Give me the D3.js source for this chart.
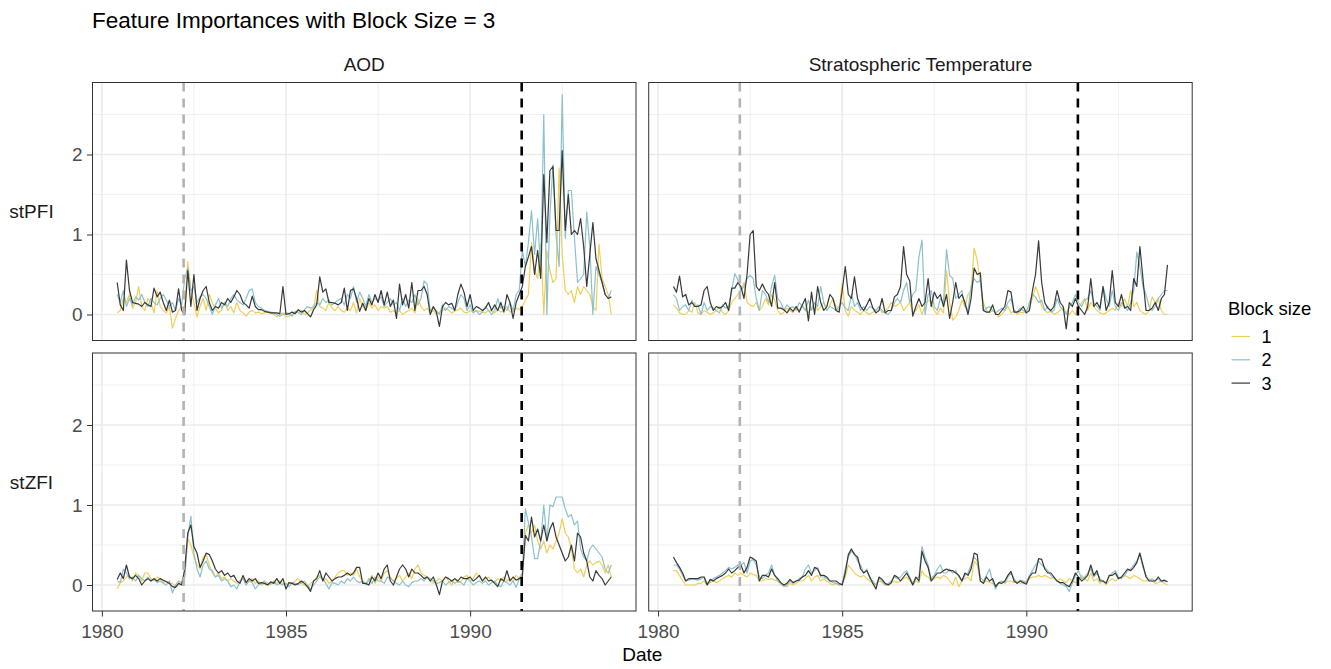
<!DOCTYPE html>
<html>
<head>
<meta charset="utf-8">
<script src="https://cdn.jsdelivr.net/npm/d3@7"></script>
<style>
  html, body { margin: 0; padding: 0; background: #ffffff; }
  svg { display: block; font-family: "Liberation Sans", Arial, Helvetica, sans-serif; }
</style>
</head>
<body>
<svg id="chart" width="1331" height="669"></svg>
<script>
// ---- Data -------------------------------------------------------------
// Monthly series, first value is June 1980.
const firstYear = 1980, firstMonth = 6;

const features = ["AOD", "Stratospheric Temperature"];
const metrics = ["stPFI", "stZFI"];
const blockSizes = ["1", "2", "3"];
const blockColors = ["#efcf57", "#8bc1cd", "#383838"];

const xTicks = [1980, 1985, 1990];
const xMinorTicks = [1982.5, 1987.5, 1992.5];
const yTicks = [0, 1, 2];
const yMinorTicks = [0.5, 1.5, 2.5];

// Eruption markers (decimal year): El Chichón, Pinatubo
const eventYears = [1982.22, 1991.40];
const eventColors = ["#b3b3b3", "#000000"];

// AOD, stPFI
const aodPfi1 = [
  0.02,0.05,0.20,0.15,0.25,0.08,0.15,0.35,0.10,0.05,0.20,0.15,0.02,0.30,0.10,0.05,0.02,0.10,
  -0.17,-0.05,0.05,0.10,0.08,0.66,0.30,0.15,-0.03,0.10,0.20,0.05,0.25,0.15,0.08,0.02,0.05,0.15,
  0.05,0.10,0.02,0.15,0.05,0.02,-0.02,0.03,0.05,0.02,0.03,0.01,0.02,0.04,0.02,0.00,-0.03,0.00,
  0.02,-0.03,-0.02,0.00,0.03,0.02,0.05,0.00,0.02,0.05,0.08,0.30,0.10,0.08,0.05,0.15,0.08,0.05,
  0.10,0.05,0.03,0.08,0.05,0.15,0.02,0.20,0.10,0.05,0.15,0.08,0.12,0.05,0.10,0.08,0.10,0.03,
  0.05,0.02,0.05,0.00,0.03,0.05,0.08,0.02,0.20,0.10,0.05,0.08,0.02,0.05,0.00,0.03,0.05,0.08,
  0.05,0.02,0.04,0.06,0.08,0.03,0.02,0.05,0.03,0.05,0.04,0.03,0.02,0.05,0.04,0.02,0.06,0.03,
  0.05,0.10,0.03,0.04,0.08,0.06,0.10,0.18,0.25,0.90,0.55,0.45,0.88,0.00,0.80,0.55,0.40,0.45,
  1.83,0.75,0.30,0.25,0.30,0.15,0.35,0.25,0.35,0.30,0.25,0.10,0.05,0.88,0.45,0.35,0.25,0.00
];
const aodPfi2 = [
  0.25,0.15,0.30,0.10,0.20,0.12,0.22,0.18,0.25,0.15,0.10,0.20,0.15,0.12,0.20,0.25,0.18,0.10,
  0.15,0.05,0.20,0.12,0.45,0.58,0.30,0.35,0.15,0.22,0.25,0.20,0.10,0.00,0.12,0.20,0.08,0.15,
  0.10,0.20,0.25,0.18,0.15,0.12,0.20,0.30,0.32,0.15,0.10,0.08,0.05,0.04,0.03,0.02,0.00,-0.02,
  0.00,0.02,0.01,-0.02,0.04,0.03,0.00,0.06,0.10,0.08,0.10,0.15,0.12,0.20,0.15,0.18,0.12,0.15,
  0.18,0.20,0.12,0.25,0.20,0.35,0.15,0.28,0.20,0.10,0.25,0.15,0.20,0.18,0.22,0.10,0.15,0.20,
  0.12,0.15,0.05,0.20,0.10,0.18,0.15,0.25,0.12,0.20,0.42,0.38,0.05,0.08,0.05,0.00,0.12,0.05,
  0.10,0.08,0.05,0.15,0.25,0.20,0.05,0.12,0.02,0.05,0.00,0.03,0.10,0.05,0.00,0.05,0.20,0.08,
  0.10,0.05,0.15,0.05,0.25,0.30,0.80,0.60,0.90,1.30,0.75,1.20,0.55,2.50,0.00,1.25,1.87,1.00,
  0.60,2.75,0.95,1.55,1.55,0.95,0.40,0.45,0.50,1.28,0.85,0.00,0.60,0.50,0.40,0.25,0.20,0.30
];
const aodPfi3 = [
  0.40,0.12,0.05,0.68,0.30,0.15,0.14,0.13,0.10,0.15,0.12,0.10,0.33,0.22,0.28,0.15,0.05,0.18,
  0.03,0.05,0.32,0.05,0.00,0.55,0.10,0.50,0.05,0.20,0.30,0.35,0.15,0.05,0.10,0.08,0.15,0.12,
  0.20,0.15,0.22,0.30,0.25,0.15,0.12,0.08,0.23,0.10,0.06,0.06,0.04,0.03,0.02,0.02,0.02,0.01,
  0.35,0.00,0.01,0.03,0.01,0.06,0.03,0.05,0.01,-0.03,0.06,0.12,0.47,0.28,0.32,0.15,0.15,0.14,
  0.12,0.15,0.33,0.05,0.30,0.32,0.20,0.04,0.14,0.05,0.20,0.12,0.25,0.15,0.30,0.12,0.28,0.10,
  0.18,-0.05,0.38,0.12,0.25,0.08,0.40,0.05,0.30,0.30,0.35,0.25,0.00,0.10,0.03,-0.15,0.10,0.15,
  0.12,0.14,0.05,0.25,0.38,0.28,0.10,0.25,0.05,0.10,0.08,0.05,0.08,0.15,0.05,0.12,0.05,0.15,
  0.03,0.25,0.15,-0.05,0.15,0.25,0.35,0.60,0.72,0.85,0.50,0.80,0.45,1.75,0.90,1.80,1.85,1.05,
  1.05,2.05,1.05,1.50,1.00,1.05,1.00,1.20,0.85,0.35,0.75,1.15,0.70,0.55,0.40,0.25,0.20,0.22
];

// Stratospheric Temperature, stPFI
const tempPfi1 = [
  0.12,0.08,0.02,0.00,0.00,0.05,0.03,0.15,0.02,0.00,0.05,0.03,0.00,0.02,0.05,0.10,0.03,0.00,
  0.05,0.15,0.20,0.25,0.30,0.40,0.15,0.12,0.10,0.15,0.05,0.10,0.20,0.12,0.25,0.18,0.05,0.00,
  0.03,0.08,0.05,0.02,0.10,0.05,0.12,0.05,0.02,0.08,0.15,0.05,0.10,0.15,0.05,0.12,0.20,0.10,
  0.05,0.39,0.05,-0.02,0.10,0.05,0.03,0.00,0.05,0.02,0.00,0.03,0.05,0.10,0.02,0.05,0.08,0.15,
  0.10,0.12,0.15,0.05,0.10,0.15,0.02,0.05,0.12,0.00,0.12,0.18,0.15,0.05,0.00,0.08,0.02,0.55,
  0.15,-0.07,-0.03,0.05,0.18,0.10,0.25,0.30,0.83,0.68,0.40,0.15,0.05,0.02,0.05,0.03,-0.03,0.00,
  0.05,0.10,0.02,0.05,0.00,0.03,0.02,0.05,0.08,0.20,0.35,0.25,0.10,0.05,0.02,0.05,0.00,0.02,
  0.05,0.10,0.02,0.00,0.05,0.00,0.08,0.15,0.20,0.05,0.15,0.10,0.05,0.02,0.00,0.02,0.05,0.08,
  0.05,0.15,0.10,0.20,0.10,0.30,0.10,0.15,0.05,0.02,0.00,0.05,0.22,0.15,0.20,0.05,0.00,0.00
];
const tempPfi2 = [
  0.25,0.20,0.05,0.10,0.12,0.05,0.18,0.10,0.12,0.00,0.15,0.05,0.10,0.08,0.05,0.02,0.12,0.08,
  0.10,0.30,0.51,0.43,0.30,0.35,0.45,0.49,0.45,0.20,0.05,0.30,0.25,0.15,0.35,0.49,0.20,0.15,
  0.05,0.12,0.08,0.10,0.05,0.15,0.10,0.05,0.18,0.05,0.15,0.10,0.35,0.15,0.05,0.10,0.08,0.05,
  0.10,0.15,0.08,0.05,0.25,0.10,0.15,0.05,0.10,0.05,0.10,0.08,0.05,0.10,0.05,0.02,0.00,0.05,
  0.15,0.20,0.15,0.30,0.40,0.15,0.25,0.30,0.72,0.93,0.00,0.25,0.30,0.10,0.05,0.20,0.15,0.81,
  0.49,0.45,0.20,0.25,0.30,0.10,0.05,0.35,0.45,0.40,0.43,0.05,0.08,0.10,0.05,0.02,0.05,0.08,
  0.05,0.15,0.20,0.05,0.03,0.08,0.05,0.02,0.15,0.25,0.22,0.15,0.18,0.05,0.10,0.03,0.05,0.20,
  0.10,0.05,0.00,0.10,0.15,0.25,0.15,0.10,0.18,0.20,0.30,0.15,0.10,0.05,0.35,0.20,0.10,0.30,
  0.10,0.05,0.15,0.10,0.05,0.15,0.30,0.78,0.60,0.35,0.25,0.10,0.05,0.10,0.20,0.25,0.30,0.30
];
const tempPfi3 = [
  0.35,0.28,0.48,0.22,0.25,0.12,0.15,0.10,0.10,0.12,0.30,0.35,0.15,0.05,0.10,0.08,0.10,0.15,
  0.05,0.33,0.33,0.40,0.35,0.20,0.50,1.00,1.05,0.35,0.30,0.38,0.30,0.25,0.10,0.40,0.08,0.08,
  0.06,0.02,0.08,0.04,0.10,0.03,0.12,0.20,-0.08,0.28,0.00,0.35,0.15,0.05,0.10,0.25,0.20,0.05,
  0.03,0.30,0.60,0.25,0.20,0.47,0.20,0.10,0.05,0.12,0.20,0.08,0.02,0.05,0.20,0.02,0.05,0.05,
  0.22,0.25,0.35,0.85,0.50,0.42,-0.02,0.10,0.20,0.10,0.15,0.45,0.10,0.28,0.20,0.25,0.10,0.25,
  -0.05,0.15,0.40,0.20,0.25,0.15,0.00,0.20,0.58,0.50,0.52,0.05,0.03,0.03,0.12,0.00,0.00,0.05,
  0.10,0.30,0.28,0.03,0.03,0.05,0.10,0.02,0.05,0.30,0.50,0.92,0.40,0.15,0.08,0.05,0.10,0.30,
  0.15,0.10,-0.18,0.15,0.10,0.20,0.10,0.05,0.00,0.10,0.45,0.10,0.15,0.08,0.35,0.05,0.15,0.55,
  0.15,0.10,0.25,0.08,0.10,0.05,0.45,0.35,0.85,0.45,0.05,0.05,0.08,0.15,0.05,0.20,0.25,0.62
];

// AOD, stZFI
const aodZfi1 = [
  -0.05,0.03,0.05,0.10,0.12,0.05,0.15,0.12,0.05,0.15,0.15,0.08,0.05,0.10,0.08,0.03,0.05,0.02,
  0.02,-0.02,0.00,0.05,0.10,0.58,0.50,0.35,0.25,0.20,0.35,0.38,0.25,0.15,0.10,0.15,0.08,0.10,
  0.05,0.08,0.05,0.02,0.05,0.10,0.00,0.05,0.08,0.02,0.05,0.00,0.02,0.03,0.00,0.05,0.02,0.05,
  0.02,0.00,0.03,0.02,0.05,0.08,0.02,0.00,-0.03,0.02,0.05,0.10,0.12,0.05,0.08,0.02,0.05,0.10,
  0.15,0.18,0.18,0.12,0.15,0.12,0.20,0.10,0.05,0.02,0.05,0.12,0.02,0.10,0.05,0.15,0.18,0.10,
  0.05,0.08,0.12,0.05,0.10,0.15,0.08,0.20,0.25,0.15,0.12,0.10,0.05,0.02,0.05,0.08,0.05,0.10,
  0.05,0.00,0.08,0.03,0.05,0.10,0.12,0.05,0.08,0.15,0.10,0.05,0.08,0.10,0.05,0.03,0.08,0.05,
  0.10,0.05,0.08,0.05,0.12,0.08,0.10,0.65,0.75,0.65,0.75,0.55,0.45,0.55,0.40,0.50,0.45,0.55,
  0.65,0.83,0.65,0.60,0.45,0.20,0.15,0.20,0.10,0.25,0.30,0.25,0.28,0.30,0.25,0.15,0.25,0.10
];
const aodZfi2 = [
  0.05,0.03,0.20,0.15,0.08,0.10,0.05,0.12,0.08,0.05,0.10,0.05,0.08,0.03,0.05,0.02,0.00,0.05,
  -0.10,0.00,0.05,0.02,0.10,0.60,0.86,0.40,0.20,0.10,0.25,0.30,0.20,0.18,0.10,0.12,0.05,0.08,
  0.05,-0.02,0.00,-0.05,0.05,0.08,0.00,0.05,0.03,-0.05,0.00,0.02,0.05,0.00,0.02,0.04,0.00,0.02,
  0.00,0.02,-0.02,0.03,0.02,0.00,0.03,0.05,0.00,-0.05,0.00,0.05,0.10,0.08,0.02,-0.05,0.03,0.02,
  0.00,0.05,0.02,0.08,0.05,0.10,0.05,0.03,0.05,0.00,0.08,0.02,0.10,0.05,0.05,0.02,0.10,0.08,
  0.05,0.02,0.00,0.05,0.00,-0.02,0.03,0.05,0.05,0.08,0.05,0.10,0.08,0.05,0.02,0.03,0.05,0.00,
  0.03,0.05,0.02,0.05,0.03,0.00,0.08,0.05,0.00,0.03,0.05,0.02,0.05,0.00,0.03,0.05,0.00,-0.02,
  0.05,0.03,0.00,0.05,-0.03,0.08,0.15,0.95,0.78,0.60,0.33,0.33,0.55,1.00,0.55,1.00,0.98,1.10,
  1.10,1.10,0.95,0.85,0.88,0.75,0.80,0.45,0.35,0.30,0.45,0.50,0.45,0.40,0.35,0.20,0.15,0.25
];
const aodZfi3 = [
  0.07,0.15,0.08,0.25,0.10,0.08,0.12,0.08,0.00,0.05,0.08,0.05,0.08,0.05,0.08,0.06,0.04,0.02,
  -0.02,-0.03,0.02,0.00,0.20,0.65,0.75,0.48,0.40,0.22,0.30,0.40,0.38,0.30,0.20,0.15,0.18,0.12,
  0.15,0.10,0.12,0.05,0.02,0.12,0.03,0.08,0.05,0.08,0.02,0.03,0.02,0.00,0.04,0.02,0.08,0.02,
  0.08,-0.05,0.03,0.02,0.00,0.02,0.05,0.02,-0.02,-0.08,0.05,0.08,0.18,0.05,0.15,0.10,0.05,0.08,
  0.10,0.10,0.12,0.15,0.12,0.15,0.22,0.22,0.02,0.02,0.00,0.10,0.05,0.15,0.08,0.20,0.25,0.05,
  0.00,0.10,0.20,0.25,0.20,0.10,0.20,0.15,0.15,0.12,0.08,0.10,0.05,0.10,0.00,-0.12,0.05,0.10,
  0.08,0.05,0.08,0.05,0.10,0.08,0.08,0.10,0.05,0.08,0.12,0.05,0.10,0.05,0.06,0.02,-0.02,0.08,
  0.05,0.18,0.05,0.10,0.06,0.08,0.10,0.62,0.55,0.85,0.60,0.70,0.55,0.75,0.55,0.70,0.78,0.60,
  0.50,0.40,0.30,0.35,0.50,0.30,0.65,0.60,0.40,0.30,0.10,0.05,0.18,0.12,0.08,0.00,0.05,0.10
];

// Stratospheric Temperature, stZFI
const tempZfi1 = [
  0.18,0.18,0.12,0.05,0.00,0.00,0.00,0.00,0.02,0.02,0.05,0.00,0.03,0.05,0.03,0.05,0.08,0.10,
  0.12,0.10,0.15,0.12,0.15,0.12,0.10,0.15,0.13,0.12,0.05,0.05,0.08,0.07,0.08,0.06,0.05,0.00,
  0.00,-0.02,0.02,0.00,0.02,0.05,0.05,0.08,0.12,0.05,0.10,0.12,0.05,0.08,0.05,0.02,0.00,0.02,
  0.00,0.02,0.10,0.25,0.20,0.15,0.12,0.10,0.12,0.08,0.05,0.02,0.00,0.05,0.03,0.00,0.00,0.02,
  0.05,0.03,0.05,0.08,0.10,0.05,0.00,0.05,0.03,0.18,0.12,0.10,0.05,0.08,0.10,0.08,0.12,0.10,
  0.05,0.00,0.10,-0.02,0.05,0.08,0.10,0.05,0.30,0.25,0.05,0.03,0.05,0.03,0.02,0.00,0.02,0.05,
  0.02,0.05,0.05,0.03,0.05,0.02,0.03,0.05,0.08,0.10,0.10,0.12,0.10,0.12,0.10,0.08,0.10,0.05,
  0.08,0.05,0.03,0.08,0.05,0.03,0.05,0.12,0.08,0.05,0.15,0.05,0.08,0.02,0.05,0.00,0.05,0.08,
  0.05,0.08,0.10,0.12,0.10,0.08,0.12,0.10,0.08,0.05,0.05,0.08,0.05,0.02,0.03,0.05,0.02,0.00
];
const tempZfi2 = [
  0.25,0.25,0.20,0.12,0.05,0.06,0.08,0.07,0.06,0.08,0.10,0.02,0.05,0.08,0.10,0.12,0.15,0.18,
  0.22,0.20,0.22,0.25,0.25,0.28,0.15,0.30,0.32,0.25,0.10,0.08,0.12,0.15,0.25,0.12,0.05,0.02,
  -0.02,0.00,0.05,0.02,0.05,0.08,0.10,0.20,0.25,0.15,0.18,0.22,0.10,0.10,0.08,0.05,0.03,0.02,
  0.00,0.02,0.20,0.35,0.42,0.40,0.30,0.25,0.15,0.20,0.08,0.05,0.00,0.08,0.05,0.00,0.02,0.05,
  0.10,0.08,0.10,0.15,0.18,0.10,0.02,0.08,0.10,0.48,0.35,0.25,0.08,0.12,0.20,0.25,0.15,0.15,
  0.20,0.15,0.18,0.10,0.05,0.12,0.15,0.25,0.35,0.30,0.10,0.05,0.12,0.20,0.05,-0.05,0.03,0.05,
  0.03,0.10,0.15,0.08,0.02,0.06,0.05,0.03,0.12,0.18,0.25,0.30,0.25,0.22,0.18,0.12,0.08,0.05,
  0.02,0.00,-0.02,-0.08,0.02,0.12,0.18,0.08,0.10,0.15,0.20,0.10,0.15,0.08,0.05,0.03,0.10,0.15,
  0.18,0.10,0.08,0.12,0.18,0.20,0.25,0.30,0.38,0.22,0.12,0.05,0.08,0.05,0.08,0.04,0.05,0.04
];
const tempZfi3 = [
  0.35,0.28,0.22,0.15,0.05,0.08,0.08,0.08,0.08,0.10,0.10,0.00,0.07,0.05,0.08,0.10,0.12,0.15,
  0.20,0.15,0.18,0.22,0.25,0.15,0.22,0.35,0.33,0.30,0.05,0.12,0.12,0.10,0.20,0.12,0.08,0.03,
  0.00,0.02,0.07,0.03,0.05,0.06,0.10,0.12,0.18,0.12,0.22,0.20,0.12,0.12,0.10,0.05,0.05,0.05,
  0.02,0.00,0.15,0.38,0.45,0.38,0.35,0.20,0.15,0.18,0.10,0.02,-0.05,0.10,0.07,0.02,0.00,0.03,
  0.12,0.10,0.05,0.10,0.15,0.08,0.00,0.10,0.05,0.42,0.30,0.22,0.05,0.10,0.15,0.15,0.18,0.20,
  0.18,0.18,0.15,0.12,0.05,0.15,0.12,0.20,0.40,0.38,0.05,0.02,0.10,0.05,0.08,-0.02,0.03,0.02,
  0.05,0.12,0.17,0.05,0.02,0.05,0.03,0.01,0.10,0.15,0.15,0.33,0.32,0.20,0.15,0.15,0.10,0.05,
  0.03,0.03,0.00,-0.02,0.05,0.15,0.10,0.05,0.08,0.12,0.25,0.12,0.18,0.05,0.05,0.02,0.12,0.12,
  0.15,0.08,0.10,0.15,0.20,0.18,0.22,0.28,0.40,0.25,0.10,0.05,0.05,0.05,0.10,0.05,0.06,0.04
];

// Panel grid: rows = metrics, columns = features
const panelSeries = [
  [[aodPfi1, aodPfi2, aodPfi3], [tempPfi1, tempPfi2, tempPfi3]],
  [[aodZfi1, aodZfi2, aodZfi3], [tempZfi1, tempZfi2, tempZfi3]]
];

// ---- Layout -----------------------------------------------------------
const svg = d3.select("#chart");
const panelW = 543.5, panelH = 258;
const colX = [92.5, 648.7];
const rowY = [82.5, 353];

const dateOf = i => firstYear + (firstMonth - 1) / 12 + i / 12;
const nPoints = aodPfi1.length;
const xMin = dateOf(0), xMax = dateOf(nPoints - 1);
const xPad = (xMax - xMin) * 0.05;

const x = d3.scaleLinear().domain([xMin - xPad, xMax + xPad]).range([0, panelW]);
const y = d3.scaleLinear().domain([-0.325, 2.9]).range([panelH, 0]);

const textGrey = "#4d4d4d";
const tickFont = 19, stripFont = 19;

// Title
svg.append("text")
  .attr("x", 92).attr("y", 28)
  .attr("font-size", 22.5).attr("fill", "#000")
  .text("Feature Importances with Block Size = 3");

// Column strip labels
features.forEach((f, c) => {
  svg.append("text")
    .attr("x", colX[c] + panelW / 2).attr("y", 71)
    .attr("text-anchor", "middle").attr("font-size", stripFont).attr("fill", "#1a1a1a")
    .text(f);
});

// Row strip labels
metrics.forEach((m, r) => {
  svg.append("text")
    .attr("x", 31.5).attr("y", rowY[r] + panelH / 2 + 6.8)
    .attr("text-anchor", "middle").attr("font-size", stripFont).attr("fill", "#1a1a1a")
    .text(m);
});

const line = d3.line().x((d, i) => x(dateOf(i))).y(d => y(d));

metrics.forEach((m, r) => {
  features.forEach((f, c) => {
    const g = svg.append("g").attr("transform", `translate(${colX[c]},${rowY[r]})`);

    // grid
    g.selectAll(".gx-minor").data(xMinorTicks).join("line")
      .attr("x1", d => x(d)).attr("x2", d => x(d)).attr("y1", 0).attr("y2", panelH)
      .attr("stroke", "#ebebeb").attr("stroke-width", 0.75);
    g.selectAll(".gy-minor").data(yMinorTicks).join("line")
      .attr("x1", 0).attr("x2", panelW).attr("y1", d => y(d)).attr("y2", d => y(d))
      .attr("stroke", "#ebebeb").attr("stroke-width", 0.75);
    g.selectAll(".gx").data(xTicks).join("line")
      .attr("x1", d => x(d)).attr("x2", d => x(d)).attr("y1", 0).attr("y2", panelH)
      .attr("stroke", "#ebebeb").attr("stroke-width", 1.5);
    g.selectAll(".gy").data(yTicks).join("line")
      .attr("x1", 0).attr("x2", panelW).attr("y1", d => y(d)).attr("y2", d => y(d))
      .attr("stroke", "#ebebeb").attr("stroke-width", 1.5);

    // series lines, block size 1 first so 3 sits on top
    panelSeries[r][c].forEach((vals, k) => {
      g.append("path").datum(vals)
        .attr("d", line)
        .attr("fill", "none")
        .attr("stroke", blockColors[k])
        .attr("stroke-width", 1.2)
        .attr("stroke-linejoin", "round");
    });

    // eruption markers
    eventYears.forEach((ev, k) => {
      g.append("line")
        .attr("x1", x(ev)).attr("x2", x(ev)).attr("y1", 0).attr("y2", panelH)
        .attr("stroke", eventColors[k]).attr("stroke-width", 2.6)
        .attr("stroke-dasharray", "9,7");
    });

    // border
    g.append("rect").attr("x", 0).attr("y", 0).attr("width", panelW).attr("height", panelH)
      .attr("fill", "none").attr("stroke", "#333333").attr("stroke-width", 1);

    // y axis on left column
    if (c === 0) {
      const ya = g.append("g").call(d3.axisLeft(y).tickValues(yTicks).tickSize(5.5).tickPadding(4.5).tickFormat(d3.format("d")));
      ya.select(".domain").remove();
      ya.selectAll("line").attr("stroke", "#333333");
      ya.selectAll("text").attr("font-size", tickFont).attr("fill", textGrey).attr("font-family", null);
    }
    // x axis on bottom row
    if (r === metrics.length - 1) {
      const xa = g.append("g").attr("transform", `translate(0,${panelH})`)
        .call(d3.axisBottom(x).tickValues(xTicks).tickSize(5.5).tickPadding(8).tickFormat(d3.format("d")));
      xa.select(".domain").remove();
      xa.selectAll("line").attr("stroke", "#333333");
      xa.selectAll("text").attr("font-size", tickFont).attr("fill", textGrey).attr("font-family", null);
    }
  });
});

// x axis title
svg.append("text")
  .attr("x", (colX[0] + colX[1] + panelW) / 2).attr("y", 661)
  .attr("text-anchor", "middle").attr("font-size", 19).attr("fill", "#000")
  .text("Date");

// Legend
const lg = svg.append("g").attr("transform", "translate(1228,0)");
lg.append("text").attr("x", 0).attr("y", 315).attr("font-size", 18.5).attr("fill", "#000").text("Block size");
blockSizes.forEach((b, k) => {
  const yy = 336.5 + k * 23.3;
  lg.append("line").attr("x1", 3.5).attr("x2", 22).attr("y1", yy).attr("y2", yy)
    .attr("stroke", blockColors[k]).attr("stroke-width", 1.2);
  lg.append("text").attr("x", 33.5).attr("y", yy + 6.5).attr("font-size", 18).attr("fill", "#000").text(b);
});
</script>
</body>
</html>
